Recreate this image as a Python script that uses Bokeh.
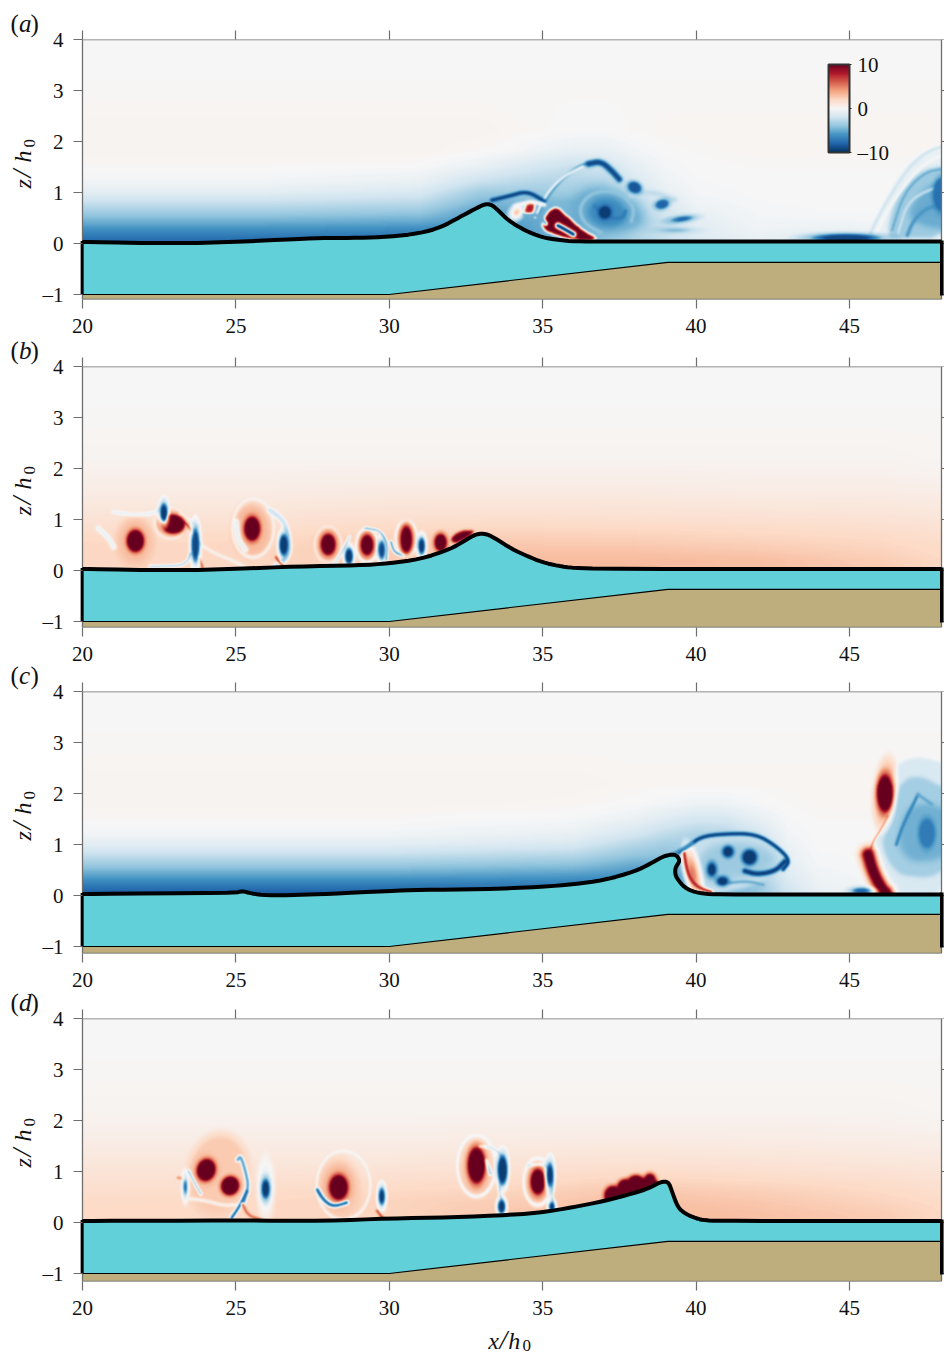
import numpy as np
from bokeh.core.properties import value
from bokeh.embed import file_html
from bokeh.resources import INLINE
from bokeh.layouts import column, row
from bokeh.plotting import figure
from bokeh.models import (LinearColorMapper, LinearAxis, FixedTicker, Range1d, ColorBar)
from bokeh.palettes import interp_palette

# ---------- shared values ----------
x_ticks = [20, 25, 30, 35, 40, 45]
z_ticks = [-1, 0, 1, 2, 3, 4]
bed_x = [20, 30, 39.08, 48]
bed_z = [-1, -1, -0.37, -0.37]
rdbu = ["#053061", "#2166ac", "#4393c3", "#92c5de", "#d1e5f0", "#f7f7f7",
        "#fddbc7", "#f4a582", "#d6604d", "#b2182b", "#67001f"]
grid_z = [0, .2, .4, .6, .8, 1, 1.2, 1.5, 1.8, 2.2, 3, 4]
panel_letters = ["a", "b", "c", "d"]

# ---------- panel (a) ----------
a_surf_x = [20, 23, 25, 27, 28, 29, 30, 31, 31.7, 32.3, 32.8, 33.1, 33.3, 33.5, 33.88, 34.4, 34.97, 35.5, 36.05, 37, 48]
a_surf_z = [.03, 0, .03, .09, .11, .11, .13, .2, .32, .52, .68, .77, .77, .68, .45, .26, .12, .07, .04, .04, .04]
a_grid_x = [20, 26, 31, 33, 34, 35, 36, 37, 38, 39, 40, 42, 44, 45, 46, 47, 48.07]
a_grid = [
    [-8, -8, -8, -8, -7, -6, -5, -4, -3, -2.5, -1.5, -.8, -1.5, -2, -1.5, -1, -1],
    [-6.6, -6.6, -6.8, -7, -6, -5, -4.5, -4, -3, -2, -1.2, -.5, -.8, -.8, -.6, -.5, -.5],
    [-5, -5, -5.2, -6, -5.5, -5, -4.8, -4.5, -3.5, -2.2, -1, -.3, -.3, -.3, -.2, -.2, -.2],
    [-3.5, -3.5, -3.8, -5.5, -5, -4.8, -4.5, -4.2, -3, -1.8, -.7, -.2, -.1, -.1, -.1, -.1, -.1],
    [-2.2, -2.2, -2.6, -4.5, -4.5, -4.5, -4.5, -4, -2.8, -1.3, -.4, -.1, 0, 0, 0, 0, 0],
    [-1, -1, -1.5, -3.5, -3.5, -3.5, -3.5, -3.2, -2, -.8, -.2, 0, 0, 0, 0, 0, 0],
    [-.3, -.3, -.7, -2.2, -2.6, -2.9, -3, -2.8, -1.5, -.5, -.1, 0, 0, 0, 0, 0, 0],
    [.1, .1, 0, -.7, -1.3, -1.8, -2.2, -1.9, -.9, -.2, 0, .1, .1, .1, .1, .1, .1],
    [.3, .3, .3, .1, -.1, -.5, -.8, -.8, -.3, 0, .1, .2, .2, .2, .2, .2, .2],
    [.3, .3, .3, .3, .2, .1, 0, 0, .1, .2, .2, .2, .2, .2, .2, .2, .2],
    [.1, .1, .1, .1, .1, .1, .1, .1, .1, .1, .1, .1, .1, .1, .1, .1, .1],
    [0, 0, 0, 0, 0, 0, 0, 0, 0, 0, 0, 0, 0, 0, 0, 0, 0],
]
a_patches = [
    ([45.85, 46.2, 46.7, 47.3, 48.3, 48.3, 46.6], [-.1, .8, 1.4, 1.75, 1.9, -.1, -.1], -.7, 2),
    ([46.2, 46.45, 47, 47.5, 48.3, 48.3, 46.6], [.12, .8, 1.25, 1.47, 1.52, .08, .08], -3.6, 2),
    ([46.85, 47.2, 47.6, 48.3, 48.3, 47.5], [.5, .9, 1.15, 1.25, .25, .3], -5, 3),
    ([35.85, 36.3, 37.2, 38.1, 38.45, 37.8, 36.8, 35.95], [.7, 1.1, 1.12, .82, .42, .2, .16, .32], -5, 5),
    ([36.4, 36.75, 37.4, 37.8, 37.5, 36.8], [.6, .88, .88, .55, .32, .32], -6.4, 3),
    ([34.95, 35.15, 35.45, 35.75, 36.3, 36.9, 36, 35.2], [.32, .6, .72, .55, .25, .05, .05, .2], 10, 1),
    ([34.35, 34.5, 34.75, 34.7], [.55, .82, .82, .55], 8, 1),
]
a_halos = [(34.15, .6, .3, .24, -40, 4)]
a_rings = []
a_blobs = [
    (37.03, .6, .38, .24, -20, -9.5), (38.0, 1.09, .42, .2, -25, -8.5), (38.9, .76, .4, .16, 15, -8),
    (39.55, .47, .55, .08, 8, -8), (39.3, .25, .7, .06, 0, -4.5),
    (44.9, .1, 1.9, .14, 0, -9), (48.05, .95, .6, .65, 0, -7.5),
]
a_lines = [
    ([35.5, 35.75, 36], [.34, .26, .17], -9.5, 4),
    ([36.7, 37.1, 37.6, 37.7], [.72, .5, .47, .62], -7, 3),
    ([34.85, 35.2, 35.7, 36.3, 36.8], [.55, .95, 1.3, 1.55, 1.6], -5.5, 2.5),
    ([36.5, 36.9, 37.25, 37.5], [1.55, 1.6, 1.42, 1.25], -9, 5),
    ([34.75, 35.1, 35.65, 36.3], [.5, .95, 1.3, 1.5], 0, 1.5),
    ([33.35, 33.9, 34.5, 35.05], [.84, .92, 1.02, .82], -9.5, 3),
    ([34.1, 34.6, 35.05], [.72, .82, .75], 0, 3),
    ([34.4, 34.9, 35.1], [.55, .55, .38], -5, 3),
    ([45.7, 46.2, 46.9, 47.5, 48.07], [.2, .8, 1.45, 1.78, 1.9], -2, 2.5),
    ([45.9, 46.4, 47.1, 47.7, 48.07], [.2, .8, 1.35, 1.65, 1.72], 0, 2),
    ([46.4, 46.8, 47.5, 48.07], [.25, 1.0, 1.4, 1.45], -5, 2),
    ([46.6, 46.9, 47.6, 48.07], [.2, .8, 1.05, 1.1], -2.2, 2),
    ([46.9, 47.1, 47.6, 48.07], [.15, .45, .72, .7], -5.8, 3),
    ([36.9, 36.3, 36.2, 36.7, 37.5, 38, 37.9], [.2, .4, .75, 1.02, 1.0, .7, .42], -4, 3),
    ([37.9, 38.6, 39.3], [.95, 1.0, .85], -2.4, 5),
]

# ---------- panel (b) ----------
b_surf_x = [20, 23, 25, 27, 29, 30, 31, 32, 32.5, 32.85, 33.15, 33.4, 34, 34.5, 35, 35.5, 36, 37, 48]
b_surf_z = [.03, 0, .03, .08, .1, .14, .22, .42, .6, .72, .72, .65, .42, .28, .16, .09, .05, .03, .03]
b_grid_x = [20, 25, 30, 34, 38, 42, 46, 48.07]
b_grid = [
    [2.1, 2.1, 2.5, 3.2, 3.2, 3, 2.6, 2],
    [2.1, 2.1, 2.5, 3.1, 3.1, 3, 2.5, 2],
    [2.1, 2.1, 2.5, 2.8, 2.8, 2.6, 2.2, 1.9],
    [2, 2, 2.3, 2.5, 2.4, 2.2, 2, 1.7],
    [1.7, 1.7, 2, 2.1, 2, 1.9, 1.7, 1.5],
    [1.4, 1.4, 1.6, 1.7, 1.6, 1.5, 1.4, 1.2],
    [1.1, 1.1, 1.3, 1.3, 1.3, 1.2, 1.1, 1],
    [.8, .8, .9, .9, .9, .8, .8, .7],
    [.5, .5, .6, .6, .6, .5, .5, .4],
    [.3, .3, .3, .3, .3, .3, .3, .2],
    [.1, .1, .1, .1, .1, .1, .1, .1],
    [0, 0, 0, 0, 0, 0, 0, 0],
]
b_patches = [([31.95, 32.3, 32.9, 32.2], [.6, .77, .79, .5], 10, 1)]
b_halos = [
    (21.7, .57, 1.2, .95, 0, 3), (25.5, .8, 1.25, 1.05, 0, 3.2), (28, .5, .85, .65, 0, 3),
    (29.27, .48, .6, .55, 0, 3.5), (30.55, .6, .6, .6, 0, 3), (22.85, .95, .95, .5, -10, 3),
]
b_rings = [
    (25.55, .82, 1.35, 1.15, 0, .2), (29.27, .48, .72, .66, 0, -.4), (30.55, .62, .7, .7, 0, -.2),
    (28, .5, .88, .72, 0, 1), (22.85, .92, 1.05, .62, -10, .6),
]
b_blobs = [
    (21.71, .57, .54, .42, 0, 10), (22.93, .9, .76, .36, -5, 10), (22.64, 1.12, .22, .34, 0, -9.5),
    (23.67, .49, .24, .62, 0, -9), (25.52, .81, .5, .46, 0, 10), (26.55, .49, .27, .4, 0, -9.5),
    (28, .5, .46, .4, 0, 10), (29.27, .49, .39, .38, 0, 10), (28.68, .27, .24, .3, 0, -9.5),
    (29.75, .39, .2, .33, 0, -9), (30.55, .6, .36, .5, 0, 10), (31.05, .47, .2, .3, 0, -9.5),
    (31.67, .54, .38, .32, 0, 10),
]
b_lines = [
    ([20.5, 20.85, 21], [.82, .62, .45], -.6, 4),
    ([21, 21.6, 22.3, 22.6], [1.14, 1.08, 1.1, 1.25], -.6, 3),
    ([23.3, 23.55, 23.7, 23.9], [.95, .78, .4, .05], 7, 1.5),
    ([23.15, 23.35, 23.75], [1.1, 1.05, .85], 0, 2),
    ([23.75, 24.2, 24.9, 25.3], [.55, .35, .18, .05], .3, 2.5),
    ([23.5, 23.4, 23.1, 22.2], [.32, .15, .08, .07], -3, 2),
    ([25, 25.05, 25.3], [.95, .6, .4], -.8, 4),
    ([26.1, 26.4, 26.65, 26.75, 26.6, 26.2], [1.17, 1.05, .85, .4, .2, .04], -2, 4),
    ([26.3, 26.45, 26.6], [.25, .12, .04], 7, 2),
    ([28.2, 28.5, 28.7], [.1, .4, .65], -2, 2),
    ([29.2, 29.7, 29.95, 29.9], [.82, .78, .5, .2], -5, 1.5),
    ([30.05, 30.15, 30.45], [.55, .35, .28], -6, 2),
]

# ---------- panel (c) ----------
c_surf_x = [20, 25, 25.2, 25.5, 26, 27, 28, 30, 31, 33, 35, 36, 37, 38, 38.5, 38.9, 39.15, 39.35, 39.48, 39.32, 39.32, 39.42, 39.6, 39.87, 40.3, 41, 48]
c_surf_z = [.03, .05, .09, .04, 0, .01, .03, .09, .11, .12, .17, .22, .3, .47, .62, .76, .8, .8, .68, .55, .4, .3, .17, .08, .03, .02, .02]
c_grid_x = [20, 30, 36, 38, 39, 40, 41, 42, 43, 44, 46, 48.07]
c_grid = [
    [-8.5, -8.5, -8, -8, -7, -6, -5, -4, -2, -.8, -.3, -.3],
    [-7, -7, -7, -7, -6, -5, -4.5, -3.8, -1.6, -.6, -.2, -.2],
    [-5.2, -5.2, -5.5, -6, -5.5, -4.5, -4, -3.2, -1.2, -.4, -.1, -.1],
    [-3.6, -3.6, -4, -5, -5, -4, -3.5, -2.8, -.9, -.2, 0, 0],
    [-2.2, -2.2, -2.7, -3.8, -4, -3.5, -3.3, -2.6, -.8, -.1, 0, 0],
    [-1, -1, -1.5, -2.8, -3.4, -3.3, -3.1, -2.2, -.5, 0, 0, 0],
    [-.3, -.3, -.7, -1.7, -2.5, -3, -2.9, -1.8, -.3, 0, 0, 0],
    [.1, .1, -.1, -.6, -1.2, -1.7, -1.6, -.8, -.1, .1, .1, .1],
    [.3, .3, .2, 0, -.2, -.4, -.4, -.1, .1, .2, .2, .2],
    [.3, .3, .3, .2, .2, .2, .2, .2, .2, .2, .2, .2],
    [.1, .1, .1, .1, .1, .1, .1, .1, .1, .1, .1, .1],
    [0, 0, 0, 0, 0, 0, 0, 0, 0, 0, 0, 0],
]
c_patches = [
    ([39.44, 40.2, 40.96, 41.94, 42.6, 43.09, 42.82, 41.94, 40.64, 39.88, 39.55],
     [.84, 1.16, 1.2, 1.2, .98, .69, .5, .2, .0, .0, .59], -2.2, 2),
    ([40, 40.5, 41.5, 42.4, 42.7, 42.2, 41, 40.2], [.7, 1.0, 1.05, .9, .65, .45, .25, .2], -3.6, 4),
    ([46.43, 46.87, 47.52, 48.3, 48.3, 46.27, 45.94, 45.78, 45.94, 46.27], [2.49, 2.7, 2.72, 2.55, -.1, -.1, .4, .79, 1.25, 1.64], -1.5, 1.5),
    ([46.54, 46.87, 47.41, 48.3, 48.3, 46.76, 46.27, 46.05, 46.27], [2.03, 2.33, 2.36, 2.03, .37, .33, .63, .99, 1.58], -3.4, 2),
    ([46.87, 47.52, 48.3, 48.3, 47.08, 46.6, 46.65], [1.7, 1.84, 1.64, .73, .6, .92, 1.31], -4.8, 3),
]
c_halos = [(46.17, 2.0, .62, 1.15, -5, 5), (39.9, .42, .42, .85, 12, 5)]
c_rings = []
c_blobs = [
    (41.05, .85, .32, .2, 0, -9.5), (41.75, .74, .45, .28, -10, -9.5), (40.52, .5, .26, .24, 0, -9.5),
    (40.87, .27, .34, .16, 0, -9.5), (47.54, 1.21, .5, .55, 0, -7), (46.17, 2.0, .5, .72, 0, 10),
    (45.4, .08, .5, .1, 0, -8),
]
c_lines = [
    ([39.44, 39.8, 40.2, 40.96, 41.94, 42.6, 43.09, 42.85], [.84, .98, 1.15, 1.2, 1.2, .97, .68, .5], -9.5, 3),
    ([39.2, 39.5, 39.9], [.8, .88, 1.02], -6, 2),
    ([41.6, 42, 42.6, 42.9], [.47, .4, .47, .66], -9.5, 4),
    ([41.1, 41.7, 42.2], [.24, .27, .2], -5, 2.5),
    ([39.62, 39.7, 39.85, 40.1, 40.5], [.82, .5, .28, .14, .06], 8, 2.5),
    ([46.54, 46.76, 47.25], [.99, 1.38, 1.97], -6.5, 2.5),
    ([47.25, 47.7], [1.97, 1.78], -5.2, 2.5),
    ([46.27, 46.05, 45.78, 45.68], [1.55, 1.3, 1.05, .85], 4.5, 1.5),
    ([45.55, 45.8, 46.2, 46.45], [.75, .3, .08, .03], 5, 1.5),
    ([45.62, 45.78, 46.05, 46.2], [.79, .46, .14, .05], 10, 12),
]

# ---------- panel (d) ----------
d_surf_x = [20, 25, 28, 30, 32, 34, 35, 36, 37, 38, 38.5, 38.85, 39.1, 39.22, 39.4, 39.65, 40, 40.3, 41, 48]
d_surf_z = [.03, .04, .03, .08, .1, .15, .2, .3, .42, .58, .68, .8, .8, .6, .3, .17, .08, .04, .03, .03]
d_grid_x = [20, 25, 30, 34, 38, 42, 46, 48.07]
d_grid = [
    [2, 2, 2.2, 2.8, 3.2, 3, 2.6, 2],
    [2, 2, 2.2, 2.7, 3.1, 2.9, 2.5, 2],
    [1.9, 2, 2.2, 2.5, 3, 2.7, 2.2, 1.9],
    [1.7, 1.8, 2, 2.2, 2.7, 2.4, 2, 1.7],
    [1.5, 1.6, 1.7, 1.9, 2.2, 2, 1.7, 1.5],
    [1.3, 1.3, 1.4, 1.6, 1.8, 1.6, 1.4, 1.2],
    [1.1, 1.1, 1.1, 1.3, 1.4, 1.3, 1.1, 1],
    [.8, .8, .8, .9, 1, .9, .8, .7],
    [.5, .5, .5, .6, .6, .6, .5, .4],
    [.3, .3, .3, .3, .3, .3, .3, .2],
    [.1, .1, .1, .1, .1, .1, .1, .1],
    [0, 0, 0, 0, 0, 0, 0, 0],
]
d_patches = [([37, 37.4, 37.9, 38.3, 38.6, 38.9, 38.2, 37.5, 37.1], [.45, .62, .8, .86, .85, .76, .5, .3, .28], 10, 1)]
d_halos = [
    (24.4, .95, 2.0, 1.6, -10, 2.6), (28.34, .68, 1.35, 1.15, 0, 2.8), (32.84, 1.1, .95, 1.05, 0, 3.4),
    (34.84, .79, .65, .72, 0, 3.4), (24.02, 1.02, .75, .55, 0, 3.5), (28.34, .68, .75, .62, 0, 4.5),
    (25.96, .65, .42, .9, 0, -1.6),
]
d_rings = [
    (32.84, 1.1, 1.25, 1.2, 0, -.4), (34.84, .79, .92, .92, 0, -.4), (28.5, .72, 1.75, 1.35, 0, 0),
]
d_blobs = [
    (24.02, 1.02, .58, .42, -15, 10), (24.8, .71, .56, .36, -25, 10), (25.96, .65, .24, .34, 0, -9.5),
    (28.34, .68, .58, .47, 0, 10), (29.75, .5, .18, .3, 0, -9.5), (32.84, 1.11, .55, .68, 0, 10),
    (33.69, 1.02, .3, .55, 0, -9.5), (34.84, .79, .45, .48, 0, 10), (35.24, .92, .2, .42, 0, -9.5),
    (33.66, .3, .22, .25, 0, -9.5), (35.3, .3, .16, .16, 0, -9.5), (23.34, .69, .1, .24, 0, -8),
    (37.3, .52, .55, .36, 0, 10), (37.7, .68, .5, .3, 0, 10), (38.05, .76, .55, .3, 0, 10), (38.5, .82, .35, .24, 0, 10),
]
d_lines = [
    ([25.05, 25.15, 25.32, 25.4, 25.25], [1.22, 1.3, .95, .7, .4], -5.5, 3),
    ([25.35, 25.1, 24.85], [.6, .3, .08], -8, 2.5),
    ([25.2, 25.4, 25.8], [.35, .12, .05], 6, 2),
    ([23.45, 23.65, 23.85], [1.0, .75, .55], -3.5, 2),
    ([23.1, 23.3], [.87, .84], 5, 2),
    ([23.5, 24, 24.6, 25], [.45, .42, .32, .34], .3, 2.5),
    ([27.65, 27.85, 28.15, 28.6], [.63, .43, .3, .38], -8, 3),
    ([29.6, 29.75, 29.85], [.22, .1, .04], 7, 2),
    ([32.95, 33.5, 33.8, 33.55, 33.7], [1.48, 1.45, 1.1, .65, .35], -1.5, 2),
    ([34.5, 35.1, 35.35, 35.3, 35.35], [1.1, 1.15, .85, .55, .25], -1.5, 2),
    ([33.15, 33.3], [1.2, .95], -3, 3),
]

# ---------- drawing ----------
FIELD_W, PX_X, PX_Z = 859, 30.68, 51.0
X_MAX = 20 + FIELD_W / PX_X
X_LO, X_HI = 20 - 2 / PX_X, X_MAX + 3 / PX_X
FRAME_W = FIELD_W + 5
mapper = LinearColorMapper(palette=interp_palette(rdbu, 256), low=-10, high=10)
WATER, SAND, AXIS = "#62d0d9", "#bfae7d", "#6e6e6e"
SERIF = value("Liberation Serif")
ROWS = 210
GX, GZ = np.meshgrid(np.linspace(20, X_MAX, FIELD_W), np.linspace(-.1, 4, ROWS))


def chaikin(xs, zs, n=2, closed=False):
    pts = np.column_stack([xs, zs]).astype(float)
    for _ in range(n):
        a = pts if not closed else np.vstack([pts, pts[:1]])
        q = .75 * a[:-1] + .25 * a[1:]
        r = .25 * a[:-1] + .75 * a[1:]
        mid = np.empty((2 * len(q), 2))
        mid[0::2], mid[1::2] = q, r
        pts = mid if closed else np.vstack([a[:1], mid, a[-1:]])
    return pts[:, 0], pts[:, 1]


def blur(a, sigma):
    r = int(np.ceil(3 * sigma))
    k = np.exp(-.5 * (np.arange(-r, r + 1) / sigma) ** 2)
    k /= k.sum()
    pad = np.pad(a, r, mode="edge")
    pad = np.apply_along_axis(lambda v: np.convolve(v, k, "same"), 0, pad)
    pad = np.apply_along_axis(lambda v: np.convolve(v, k, "same"), 1, pad)
    return pad[r:-r, r:-r]


def ell_dist(e):
    x, z, w, h, deg = e[:5]
    t = np.radians(deg)
    dx, dz = (GX - x) * PX_X, (GZ - z) * PX_Z
    u, v = dx * np.cos(t) + dz * np.sin(t), -dx * np.sin(t) + dz * np.cos(t)
    a, b = w * PX_X / 2, h * PX_Z / 2
    return (np.sqrt((u / a) ** 2 + (v / b) ** 2) - 1) * min(a, b)


def over(f, mask, v):
    return f + (v - f) * mask


def field(xs, table, patches, halos, rings, lines, blobs):
    t = np.array(table, dtype=float)
    by_x = np.array([np.interp(GX[0], xs, row_) for row_ in t])
    f = np.array([np.interp(GZ[:, 0], grid_z, col) for col in by_x.T]).T
    for px_, pz_, v, soft in patches:
        sx, sz = chaikin(px_, pz_, 2, closed=True)
        inside = np.zeros_like(f, dtype=bool)
        for i in range(len(sx)):
            j = i - 1
            cond = (sz[i] > GZ) != (sz[j] > GZ)
            with np.errstate(divide="ignore", invalid="ignore"):
                cross = GX < (sx[j] - sx[i]) * (GZ - sz[i]) / (sz[j] - sz[i]) + sx[i]
            inside ^= cond & cross
        f = over(f, blur(inside.astype(float), soft), v)
    for e in halos:
        f = over(f, np.clip(.5 - ell_dist(e) / 10, 0, 1), e[5])
    for e in rings:
        f = over(f, np.exp(-(ell_dist(e) / 1.3) ** 2), e[5])
    for lx, lz, v, w in lines:
        sx, sz = chaikin(lx, lz, 3)
        sx, sz = sx * PX_X, sz * PX_Z
        m = np.zeros_like(f)
        x0, z0 = GX * PX_X, GZ * PX_Z
        for i in range(len(sx) - 1):
            ax_, az_ = sx[i], sz[i]
            bx, bz = sx[i + 1] - ax_, sz[i + 1] - az_
            tt = np.clip(((x0 - ax_) * bx + (z0 - az_) * bz) / max(bx * bx + bz * bz, 1e-9), 0, 1)
            d2 = (x0 - ax_ - tt * bx) ** 2 + (z0 - az_ - tt * bz) ** 2
            m = np.maximum(m, np.exp(-d2 / (.6 * w) ** 2))
        f = over(f, np.clip(1.25 * m, 0, 1), v)
    for e in blobs:
        f = over(f, .55 * np.clip(.5 - ell_dist(e) / 5 + .3, 0, 1), e[5])
        f = over(f, np.clip(.5 - ell_dist(e) / 2, 0, 1), e[5])
    return blur(f, .7)


def style(ax):
    ax.major_tick_in = 0
    ax.major_tick_out = 9
    ax.minor_tick_line_color = None
    ax.axis_line_color = None
    ax.major_tick_line_color = AXIS
    ax.major_tick_line_width = 1.2
    ax.major_label_text_font = "Liberation Serif"
    ax.major_label_text_font_size = "21px"
    ax.major_label_text_color = "#111111"
    ax.major_label_standoff = 10


def panel(h, border_top, border_bottom, surf_x, surf_z, grid_x, grid, patches=(), halos=(),
          rings=(), blobs=(), lines=()):
    zmin = 4 - h / PX_Z
    p = figure(frame_width=FRAME_W, frame_height=h, x_range=Range1d(X_LO, X_HI), y_range=Range1d(zmin, 4),
               output_backend="svg", toolbar_location=None, min_border_left=41, min_border_right=0,
               min_border_top=border_top, min_border_bottom=border_bottom,
               background_fill_color="white", outline_line_color=None, border_fill_color="white")
    p.grid.visible = False
    p.image(image=[field(grid_x, grid, patches, halos, rings, lines, blobs)], x=20, y=-.1, dw=X_MAX - 20, dh=4.1,
            color_mapper=mapper)
    sx, sz = chaikin(surf_x, surf_z, 2)
    p.patch(list(sx) + [X_MAX, X_MAX, 20, 20], list(sz) + [sz[-1], zmin, zmin, sz[0]], fill_color=WATER, line_color=None)
    p.patch(bed_x + [X_MAX, X_MAX, 20], bed_z + [bed_z[-1], zmin, zmin], fill_color=SAND, line_color=None)
    # frame lines and the short right-hand ticks
    p.line([20, X_MAX, X_MAX, 20, 20], [4, 4, zmin, zmin, 4], line_color=AXIS, line_width=1.3)
    p.segment([X_MAX] * len(z_ticks), z_ticks, [X_HI] * len(z_ticks), z_ticks, line_color=AXIS, line_width=1.2)
    p.line(bed_x + [X_MAX], bed_z + [bed_z[-1]], line_color="black", line_width=1.1)
    p.line(sx, sz, line_color="black", line_width=4, line_join="round")
    p.line([20 - .55 / PX_X] * 2, [.05, -1], line_color="black", line_width=3.4)
    p.line([X_MAX + .3 / PX_X] * 2, [.06, -1.02], line_color="black", line_width=3.6)
    style(p.xaxis[0])
    style(p.yaxis[0])
    p.xaxis[0].ticker = FixedTicker(ticks=x_ticks)
    p.yaxis[0].ticker = FixedTicker(ticks=z_ticks)
    p.yaxis[0].major_label_overrides = {-1: "\u20131"}
    p.yaxis[0].major_tick_in = 2
    p.yaxis[0].major_tick_out = 7
    top_ax = LinearAxis(ticker=FixedTicker(ticks=x_ticks))
    style(top_ax)
    top_ax.major_label_overrides = {t: "" for t in x_ticks}
    top_ax.major_label_standoff = 0
    p.add_layout(top_ax, "above")
    return p


# frame top edges, page pixels, for the titles in the left strip
frame_tops = [39, 366, 691, 1018]
pa = panel(260, 39, 40, a_surf_x, a_surf_z, a_grid_x, a_grid, patches=a_patches, halos=a_halos, rings=a_rings,
           blobs=a_blobs, lines=a_lines)
pb = panel(261, 27, 40, b_surf_x, b_surf_z, b_grid_x, b_grid, patches=b_patches, halos=b_halos,
           rings=b_rings, blobs=b_blobs, lines=b_lines)
pc = panel(262, 24, 40, c_surf_x, c_surf_z, c_grid_x, c_grid, patches=c_patches, halos=c_halos,
           rings=c_rings, blobs=c_blobs, lines=c_lines)
pd_ = panel(263, 25, 40, d_surf_x, d_surf_z, d_grid_x, d_grid, patches=d_patches, halos=d_halos,
            rings=d_rings, blobs=d_blobs, lines=d_lines)

cb = ColorBar(color_mapper=mapper, location=(748, 147), width=21, height=88, padding=0, margin=0,
              background_fill_alpha=0, bar_line_color="#333333", bar_line_width=2,
              ticker=FixedTicker(ticks=[-10, 0, 10]), major_label_overrides={-10: "\u201310"},
              major_label_text_font="Liberation Serif", major_label_text_font_size="21px",
              major_label_text_color="#111111", major_tick_line_color="#333333", major_tick_in=0, major_tick_out=2,
              minor_tick_line_color=None, label_standoff=6)
pa.add_layout(cb, "center")

PAGE_H = 1353
STRIP_W = 39
BASELINE_SHIFT = .33


def text_strip(w, h):
    s = figure(width=w, height=h, x_range=Range1d(0, w), y_range=Range1d(h, 0), output_backend="svg",
               toolbar_location=None, x_axis_location=None, y_axis_location=None, min_border=0,
               outline_line_color=None, background_fill_color="white", border_fill_color="white")
    s.grid.visible = False
    return s


def put(s, x, y, text, size, italic=False, rotated=False):
    # baseline given in page pixels; the glyph is pulled back onto it
    if rotated:
        x -= BASELINE_SHIFT * size
    else:
        y -= BASELINE_SHIFT * size
    s.text([x], [y], [text], text_font=SERIF, text_font_size=f"{size}px", text_color="#111111",
           text_font_style="italic" if italic else "normal", angle=np.pi / 2 if rotated else 0.0, text_align="left",
           text_baseline="alphabetic")


left = text_strip(STRIP_W, PAGE_H)
for top, letter in zip(frame_tops, panel_letters):
    put(left, 10, top - 8, "(", 25)
    put(left, 18.5, top - 8, letter, 25, italic=True)
    put(left, 30, top - 8, ")", 25)
    put(left, 30, top + 149, "z", 24, italic=True, rotated=True)
    put(left, 30, top + 138, "/", 28, italic=True, rotated=True)
    put(left, 30, top + 123, "h", 24, italic=True, rotated=True)
    put(left, 35, top + 108, "0", 17, rotated=True)

bottom_h = PAGE_H - 1321
bottom = text_strip(FRAME_W + 41, bottom_h)
for x, y, t, size, ital in ((466 - STRIP_W, 27, "x", 24, True), (478 - STRIP_W, 27, "/", 28, True),
                            (487 - STRIP_W, 27, "h", 24, True), (502 - STRIP_W, 30, "0", 17, False)):
    put(bottom, x, y, t, size, italic=ital)

page = row(left, column(pa, pb, pc, pd_, bottom, spacing=0), spacing=0)
open("out.html", "w").write(file_html(page, INLINE))
